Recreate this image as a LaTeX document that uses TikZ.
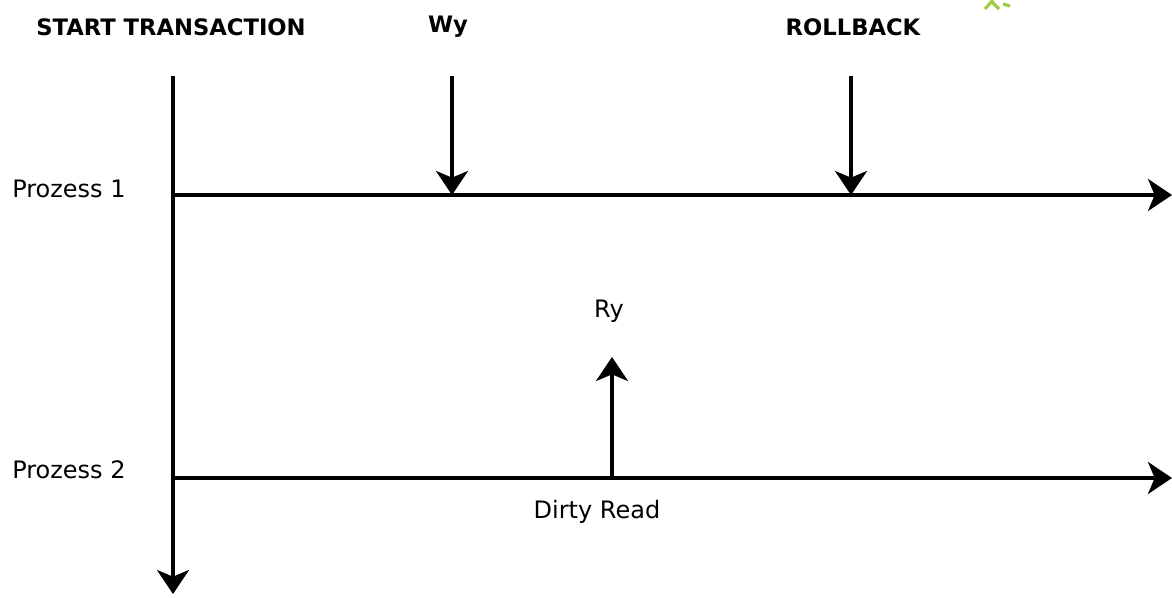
\documentclass[tikz,border=0pt]{standalone}
\usepackage{fontspec}
\setmainfont{DejaVu Sans}
\usetikzlibrary{arrows.meta}
\begin{document}
\begin{tikzpicture}[x=0.75pt,y=-0.75pt,
  axis/.style={line width=2.6pt,-{Stealth[length=18pt,width=24pt,inset=5pt]}},
  head/.style={font=\fontsize{17}{19}\selectfont\bfseries,inner sep=0pt},
  lbl/.style={font=\fontsize{18}{20}\selectfont,inner sep=0pt}]
\useasboundingbox (0,0) rectangle (1172,597);
% small green mark at the top edge
\draw[line width=2.4pt,color={rgb,255:red,160;green,205;blue,70}] (985,9) -- (993,0) (992,2) -- (999,9) (1003,4) -- (1010,6);
% time axis and process lines
\coordinate (top) at (173,76);
\coordinate (bottom) at (173,594);
\coordinate (p1s) at (173,195);
\coordinate (p1e) at (1172,195);
\coordinate (p2s) at (173,478);
\coordinate (p2e) at (1172,478);
\draw[axis] (top) -- (bottom);
\draw[axis] (p1s) -- (p1e);
\draw[axis] (p2s) -- (p2e);
% headings
\node[head] (start) at (171,27) {START TRANSACTION};
\node[head] (wy) at (448,27) {Wy};
\node[head] (rb) at (853,27) {ROLLBACK};
\node[lbl,anchor=west] (pz1) at (12,189) {Prozess 1};
\node[lbl,anchor=west] (pz2) at (12,470) {Prozess 2};
\node[lbl] (ry) at (609,311) {Ry};
\node[lbl] (dr) at (597,512) {Dirty Read};
% event arrows
\coordinate (wyt) at (452,76);
\coordinate (wyb) at (452,195);
\coordinate (rbt) at (851,76);
\coordinate (rbb) at (851,195);
\coordinate (ryb) at (612,478);
\coordinate (ryt) at (612,357);
\draw[axis] (wyt) -- (wyb);
\draw[axis] (rbt) -- (rbb);
\draw[axis] (ryb) -- (ryt);
\end{tikzpicture}
\end{document}
